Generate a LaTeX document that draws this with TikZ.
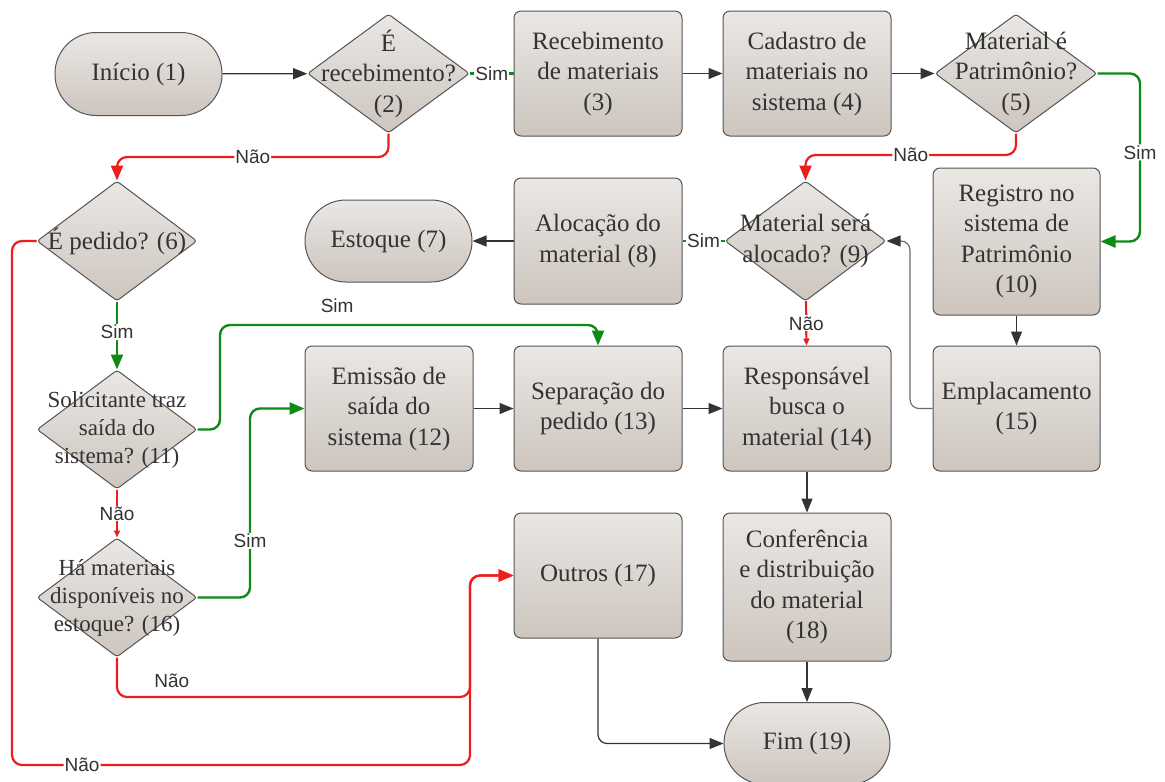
\documentclass[tikz,border=0pt]{standalone}
\usepackage{fontspec}
\setmainfont{Liberation Serif}
\setsansfont{Liberation Sans}
\usetikzlibrary{shapes.geometric,arrows.meta}

\definecolor{filltop}{HTML}{EAE7E4}
\definecolor{fillmid}{HTML}{E4E0DC}
\definecolor{fillbot}{HTML}{CDC5BE}
\definecolor{edge}{HTML}{555555}
\definecolor{ink}{HTML}{333333}
\definecolor{redline}{HTML}{EE1C1C}
\definecolor{greenline}{HTML}{0E8A16}
\definecolor{grayline}{HTML}{6A6A6A}

\newcommand\boxfont{\fontsize{25}{30.5}\selectfont}
\newcommand\tightfont{\fontsize{23}{28}\selectfont}
\newcommand\tagfont{\sffamily\fontsize{19}{22}\selectfont}

\begin{document}
\begin{tikzpicture}[x=1pt,y=-1pt,
  shaded/.style={top color=filltop,middle color=fillmid,bottom color=fillbot,draw=edge,line width=1pt,inner sep=0pt},
  procbox/.style={shaded,rectangle,rounded corners=7pt,minimum width=168pt,minimum height=125pt,
    text=ink,font=\boxfont,align=center},
  terminal/.style={shaded,rectangle,rounded corners=41pt,minimum width=167pt,minimum height=83pt,
    text=ink,font=\boxfont,align=center},
  decision/.style={shaded,diamond,rounded corners=3pt,minimum width=162pt,minimum height=119pt},
  dtext/.style={text=ink,font=\boxfont,align=center,inner sep=0pt},
  tag/.style={fill=white,text=ink,font=\tagfont,inner sep=1pt},
  freetag/.style={text=ink,font=\tagfont,inner sep=1pt},
  flow/.style={draw=ink,line width=1.2pt,-{Triangle[length=14pt,width=11pt]}},
  back/.style={draw=grayline,line width=1.1pt,rounded corners=9pt,-{Triangle[length=14pt,width=11pt,color=ink]}},
  yes/.style={draw=greenline,line width=2.4pt,rounded corners=10pt,-{Triangle[length=15pt,width=12pt]}},
  yesplain/.style={draw=greenline,line width=2.4pt},
  no/.style={draw=redline,line width=2.2pt,rounded corners=10pt,-{Triangle[length=15pt,width=12pt]}},
  noshort/.style={draw=redline,line width=2.2pt,-{Triangle[length=7pt,width=6pt]}},
]
\useasboundingbox (0,0) rectangle (1165,782);

% ---- row 1
\node[terminal] (n1) at (138.5,74) {Início (1)};
\node[decision] (d2) at (388.5,73.5) {};
\node[dtext] (d2t) at (d2) {É\\recebimento?\\(2)};
\node[procbox] (n3) at (598,73.5) {Recebimento\\de materiais\\(3)};
\node[procbox] (n4) at (807,73.5) {Cadastro de\\materiais no\\sistema (4)};
\node[decision] (d5) at (1016,73.5) {};
\node[dtext] (d5t) at (d5) {Material é\\Patrimônio?\\(5)};

% ---- row 2
\node[decision,minimum width=160pt,minimum height=120pt] (d6) at (117,241) {};
\node[dtext] (d6t) at (d6) {É pedido? (6)};
\node[terminal,minimum height=82pt] (n7) at (388.5,241) {Estoque (7)};
\node[procbox,minimum height=126pt] (n8) at (598,241) {Alocação do\\material (8)};
\node[decision,minimum width=161pt,minimum height=120pt] (d9) at (805.5,241) {};
\node[dtext] (d9t) at (d9) {Material será\\alocado? (9)};
\node[procbox,minimum width=167pt,minimum height=147pt] (n10) at (1016.5,241.5) {Registro no\\sistema de\\Patrimônio\\(10)};

% ---- row 3
\node[decision,minimum width=160pt] (d11) at (117,429.5) {};
\node[dtext,font=\tightfont] (d11t) at (d11) {Solicitante traz\\saída do\\sistema? (11)};
\node[procbox] (n12) at (389,408.5) {Emissão de\\saída do\\sistema (12)};
\node[procbox] (n13) at (598,408.5) {Separação do\\pedido (13)};
\node[procbox] (n14) at (807,408.5) {Responsável\\busca o\\material (14)};
\node[procbox,minimum width=167pt] (n15) at (1016.5,408.5) {Emplacamento\\(15)};

% ---- row 4
\node[decision,minimum width=160pt] (d16) at (117,597.5) {};
\node[dtext,font=\tightfont] (d16t) at (d16) {Há materiais\\disponíveis no\\estoque? (16)};
\node[procbox] (n17) at (598,575.5) {Outros (17)};
\node[procbox,minimum height=148pt] (n18) at (807,587) {Conferência\\e distribuição\\do material\\(18)};
\node[terminal,minimum width=166pt,minimum height=82pt] (fim) at (807,743.5) {Fim (19)};

% ---- main sequence
\draw[flow] (n1) -- (d2);
\draw[yesplain] (d2) -- node[tag]{Sim} (n3);
\draw[flow] (n3) -- (n4);
\draw[flow] (n4) -- (d5);

% material de patrimônio
\draw[yes] (d5.east) -- (1140,73.5) -- node[tag,pos=0.47]{Sim} (1140,241.5) -- (n10.east);
\draw[no] (d5.south) -- (1016,155) -- node[tag]{Não} (805.5,155) -- (d9.north);
\draw[flow] (n10) -- (n15);
\draw[back] (n15.west) -- (910,408.5) -- (910,241) -- (d9.east);
\draw[yesplain] (d9) -- node[tag]{Sim} (n8);
\draw[flow] (n8) -- (n7);
\draw[noshort] (d9) -- node[tag]{Não} (n14);

% pedidos
\draw[no] (d2.south) -- (388.5,157) -- node[tag]{Não} (117,157) -- (d6.north);
\draw[yes] (d6) -- node[tag,pos=0.45]{Sim} (d11);
\draw[noshort] (d11) -- node[tag]{Não} (d16);
\draw[yes] (d11.east) -- (220,429.5) -- (220,325) -- node[freetag,above=10pt,pos=0.31]{Sim} (598,325) -- (n13.north);
\draw[yes] (d16.east) -- (250,597.5) -- node[tag,pos=0.3]{Sim} (250,408.5) -- (n12.west);
\draw[flow] (n12) -- (n13);
\draw[flow] (n13) -- (n14);
\draw[flow] (n14) -- (n18);
\draw[flow] (n18) -- (fim);

% outros
\draw[no] (d16.south) -- (117,697) -- node[freetag,above=7pt,pos=0.155]{Não} (470,697) -- (470,575.5) -- (n17.west);
\draw[no] (d6.west) -- (12,241) -- (12,765) -- node[tag,pos=0.153]{Não} (470,765) -- (470,575.5) -- (n17.west);
\draw[flow,rounded corners=9pt] (n17.south) -- (598,743.5) -- (fim.west);

\end{tikzpicture}
\end{document}
